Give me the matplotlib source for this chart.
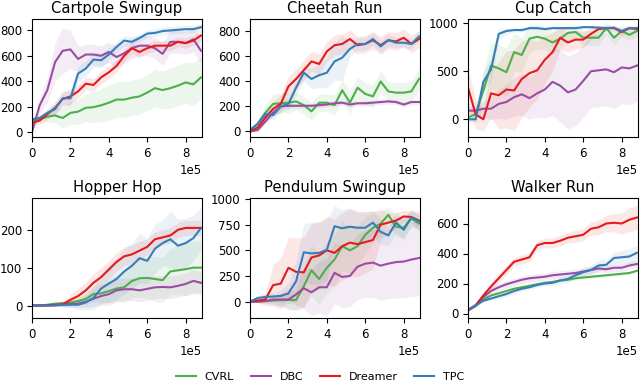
import numpy as np
import matplotlib
matplotlib.use("Agg")
import matplotlib.pyplot as plt

# -------------------- data --------------------
steps = np.arange(23) * 0.4e5   # env steps, 0 .. 8.8e5

methods = ["CVRL", "DBC", "Dreamer", "TPC"]
colors = ["#4daf4a", "#984ea3", "#e41a1c", "#377eb8"]

# Cartpole Swingup
cartpole_cvrl = [80, 100, 120, 130, 110, 150, 160, 190, 195, 210, 230, 255, 255, 270, 280, 310, 345, 330, 345, 365, 390, 375, 430]
cartpole_cvrl_sd = [20, 30, 40, 60, 80, 90, 100, 110, 120, 130, 140, 140, 140, 140, 140, 140, 150, 150, 160, 160, 160, 170, 160]
cartpole_dbc = [0, 210, 330, 550, 640, 650, 575, 610, 610, 600, 630, 590, 620, 660, 680, 680, 660, 615, 710, 710, 700, 730, 640]
cartpole_dbc_sd = [10, 60, 100, 150, 180, 150, 100, 80, 80, 80, 80, 80, 80, 80, 80, 80, 80, 90, 90, 90, 90, 100, 100]
cartpole_dreamer = [70, 90, 140, 190, 260, 280, 320, 380, 370, 430, 470, 520, 600, 660, 630, 660, 680, 680, 680, 710, 700, 720, 760]
cartpole_dreamer_sd = [20, 30, 40, 50, 60, 60, 50, 50, 50, 50, 50, 50, 50, 40, 40, 40, 40, 40, 40, 40, 40, 40, 40]
cartpole_tpc = [100, 110, 150, 180, 265, 265, 460, 500, 570, 565, 610, 670, 720, 710, 740, 775, 780, 795, 800, 805, 810, 810, 825]
cartpole_tpc_sd = [20, 20, 30, 40, 50, 60, 60, 60, 60, 60, 50, 40, 40, 40, 30, 30, 30, 30, 30, 30, 30, 30, 30]

# Cheetah Run
cheetah_cvrl = [10, 60, 150, 220, 225, 230, 240, 210, 160, 230, 230, 210, 330, 230, 350, 300, 280, 400, 320, 310, 310, 320, 420]
cheetah_cvrl_sd = [10, 30, 60, 80, 80, 80, 70, 70, 70, 70, 70, 80, 90, 90, 90, 90, 90, 90, 80, 80, 80, 80, 90]
cheetah_dbc = [0, 10, 80, 150, 200, 205, 205, 205, 205, 210, 215, 225, 230, 215, 225, 225, 230, 235, 240, 235, 215, 235, 235]
cheetah_dbc_sd = [5, 10, 20, 20, 20, 20, 20, 20, 20, 20, 20, 20, 20, 20, 20, 20, 20, 20, 20, 20, 20, 20, 20]
cheetah_dreamer = [0, 30, 110, 180, 220, 360, 420, 490, 560, 540, 640, 690, 700, 740, 690, 700, 730, 690, 730, 720, 750, 700, 740]
cheetah_dreamer_sd = [10, 20, 40, 60, 70, 80, 80, 80, 80, 80, 80, 80, 80, 70, 70, 70, 70, 70, 70, 70, 70, 70, 70]
cheetah_tpc = [10, 60, 140, 130, 200, 220, 350, 470, 420, 450, 470, 560, 590, 660, 700, 700, 740, 680, 730, 710, 710, 700, 760]
cheetah_tpc_sd = [10, 20, 30, 40, 40, 50, 60, 60, 80, 100, 120, 150, 180, 60, 50, 50, 50, 50, 50, 40, 40, 40, 40]

# Cup Catch
cup_cvrl = [20, 50, 300, 560, 530, 490, 700, 670, 840, 860, 840, 800, 840, 900, 910, 850, 850, 850, 950, 850, 920, 880, 920]
cup_cvrl_sd = [40, 80, 200, 250, 250, 250, 200, 180, 150, 130, 120, 120, 100, 80, 80, 80, 80, 80, 60, 80, 60, 60, 60]
cup_dbc = [90, 90, 110, 110, 160, 180, 230, 260, 220, 270, 310, 390, 350, 280, 310, 400, 500, 510, 520, 490, 540, 530, 560]
cup_dbc_sd = [40, 60, 80, 120, 150, 180, 200, 220, 220, 250, 300, 350, 380, 380, 380, 380, 380, 380, 380, 380, 380, 380, 380]
cup_dreamer = [330, 50, 0, 270, 250, 310, 300, 420, 480, 510, 620, 700, 850, 800, 830, 830, 890, 940, 950, 950, 910, 950, 940]
cup_dreamer_sd = [200, 150, 120, 250, 350, 400, 420, 400, 350, 300, 250, 200, 120, 100, 100, 80, 60, 40, 30, 30, 40, 30, 30]
cup_tpc = [0, 0, 390, 520, 890, 920, 930, 930, 950, 950, 940, 950, 950, 950, 950, 960, 960, 955, 950, 955, 920, 950, 950]
cup_tpc_sd = [20, 20, 100, 120, 60, 30, 20, 20, 15, 15, 15, 15, 15, 15, 15, 15, 15, 15, 15, 15, 20, 15, 15]

# Hopper Hop
hopper_cvrl = [0, 0, 2, 5, 6, 8, 12, 17, 30, 32, 38, 45, 48, 65, 72, 73, 70, 67, 90, 93, 96, 100, 100]
hopper_cvrl_sd = [1, 1, 2, 4, 6, 8, 10, 15, 20, 25, 30, 35, 40, 45, 50, 55, 60, 60, 60, 65, 70, 70, 70]
hopper_dbc = [0, 0, 1, 2, 3, 4, 5, 10, 18, 25, 30, 40, 43, 43, 40, 44, 48, 49, 48, 52, 57, 65, 60]
hopper_dbc_sd = [1, 1, 2, 3, 5, 8, 10, 15, 20, 25, 30, 30, 30, 30, 30, 30, 30, 30, 30, 30, 30, 30, 30]
hopper_dreamer = [0, 0, 0, 1, 3, 15, 25, 40, 60, 75, 95, 115, 130, 135, 145, 155, 175, 180, 185, 200, 205, 205, 205]
hopper_dreamer_sd = [1, 1, 2, 3, 8, 15, 20, 22, 24, 25, 25, 25, 25, 25, 25, 20, 20, 20, 20, 20, 20, 20, 20]
hopper_tpc = [0, 0, 0, 0, 2, 2, 2, 8, 20, 45, 58, 70, 90, 105, 125, 118, 150, 165, 175, 158, 165, 178, 205]
hopper_tpc_sd = [1, 1, 1, 2, 5, 8, 12, 20, 30, 40, 50, 55, 60, 60, 65, 60, 65, 60, 75, 70, 65, 60, 55]

# Pendulum Swingup
pendulum_cvrl = [0, 0, 5, 10, 15, 15, 15, 150, 305, 220, 330, 410, 540, 500, 540, 650, 720, 760, 845, 730, 720, 810, 760]
pendulum_cvrl_sd = [5, 10, 20, 40, 60, 80, 100, 200, 250, 250, 250, 250, 250, 220, 200, 180, 150, 120, 80, 100, 100, 80, 80]
pendulum_dbc = [0, 0, 5, 20, 20, 20, 70, 130, 90, 140, 140, 280, 240, 250, 340, 370, 380, 350, 370, 385, 390, 410, 425]
pendulum_dbc_sd = [5, 10, 20, 40, 60, 100, 150, 200, 230, 250, 280, 300, 300, 300, 320, 330, 340, 340, 340, 350, 350, 360, 370]
pendulum_dreamer = [0, 10, 20, 160, 175, 330, 290, 285, 430, 450, 500, 475, 540, 575, 560, 580, 600, 750, 770, 790, 830, 825, 790]
pendulum_dreamer_sd = [5, 20, 60, 200, 250, 300, 330, 340, 330, 330, 330, 330, 330, 330, 320, 300, 280, 150, 100, 80, 60, 60, 80]
pendulum_tpc = [0, 35, 45, 50, 55, 80, 200, 480, 470, 475, 505, 735, 715, 730, 720, 720, 770, 680, 645, 770, 700, 820, 780]
pendulum_tpc_sd = [5, 20, 30, 40, 60, 100, 200, 280, 300, 300, 300, 200, 180, 180, 150, 150, 120, 120, 100, 100, 100, 80, 80]

# Walker Run
walker_cvrl = [25, 50, 95, 120, 135, 150, 165, 175, 185, 195, 205, 210, 220, 225, 235, 240, 245, 250, 255, 260, 265, 270, 285]
walker_cvrl_sd = [5, 5, 8, 8, 10, 10, 10, 10, 10, 10, 10, 10, 10, 10, 10, 10, 10, 10, 10, 10, 10, 10, 10]
walker_dbc = [20, 55, 110, 150, 175, 195, 210, 225, 235, 240, 245, 255, 260, 265, 270, 280, 290, 300, 295, 305, 305, 320, 330]
walker_dbc_sd = [5, 10, 20, 25, 25, 25, 25, 25, 25, 25, 25, 25, 25, 25, 25, 25, 25, 25, 25, 25, 25, 25, 25]
walker_dreamer = [20, 55, 120, 180, 235, 290, 345, 360, 375, 455, 470, 470, 485, 505, 515, 525, 565, 575, 600, 605, 600, 625, 640]
walker_dreamer_sd = [5, 10, 20, 25, 30, 30, 30, 30, 30, 30, 30, 35, 35, 35, 40, 40, 45, 50, 55, 60, 70, 80, 80]
walker_tpc = [25, 55, 85, 100, 115, 130, 150, 165, 175, 190, 200, 205, 220, 230, 255, 275, 290, 320, 325, 370, 375, 380, 405]
walker_tpc_sd = [5, 8, 10, 12, 15, 15, 15, 15, 15, 15, 15, 20, 20, 25, 25, 30, 30, 35, 35, 40, 45, 50, 50]

tasks = [
    ("Cartpole Swingup", [cartpole_cvrl, cartpole_dbc, cartpole_dreamer, cartpole_tpc],
     [cartpole_cvrl_sd, cartpole_dbc_sd, cartpole_dreamer_sd, cartpole_tpc_sd], (-40, 890), [0, 200, 400, 600, 800]),
    ("Cheetah Run", [cheetah_cvrl, cheetah_dbc, cheetah_dreamer, cheetah_tpc],
     [cheetah_cvrl_sd, cheetah_dbc_sd, cheetah_dreamer_sd, cheetah_tpc_sd], (-45, 900), [0, 200, 400, 600, 800]),
    ("Cup Catch", [cup_cvrl, cup_dbc, cup_dreamer, cup_tpc],
     [cup_cvrl_sd, cup_dbc_sd, cup_dreamer_sd, cup_tpc_sd], (-185, 1045), [0, 500, 1000]),
    ("Hopper Hop", [hopper_cvrl, hopper_dbc, hopper_dreamer, hopper_tpc],
     [hopper_cvrl_sd, hopper_dbc_sd, hopper_dreamer_sd, hopper_tpc_sd], (-33, 284), [0, 100, 200]),
    ("Pendulum Swingup", [pendulum_cvrl, pendulum_dbc, pendulum_dreamer, pendulum_tpc],
     [pendulum_cvrl_sd, pendulum_dbc_sd, pendulum_dreamer_sd, pendulum_tpc_sd], (-160, 1010), [0, 250, 500, 750, 1000]),
    ("Walker Run", [walker_cvrl, walker_dbc, walker_dreamer, walker_tpc],
     [walker_cvrl_sd, walker_dbc_sd, walker_dreamer_sd, walker_tpc_sd], (-30, 770), [0, 200, 400, 600]),
]

# -------------------- layout --------------------
W, H = 640, 382
fig = plt.figure(figsize=(W / 100, H / 100), dpi=100)

lefts = [32, 250, 468]
rows = [(19, 137), (198, 318)]   # (top, bottom) in pixels
aw = 170

lines = []
for k, (title, means, sds, ylim, yticks) in enumerate(tasks):
    r, c = divmod(k, 3)
    top, bot = rows[r]
    ax = fig.add_axes([lefts[c] / W, 1 - bot / H, aw / W, (bot - top) / H])
    for m, sd, col in zip(means, sds, colors):
        m = np.array(m, dtype=float)
        sd = np.array(sd, dtype=float)
        ax.fill_between(steps, m - sd, m + sd, color=col, alpha=0.1, linewidth=0)
        ln, = ax.plot(steps, m, color=col, lw=1.5)
        if k == 0:
            lines.append(ln)
    ax.set_xlim(0, 8.85e5)
    ax.set_ylim(*ylim)
    ax.set_yticks(yticks)
    ax.set_xticks([0, 2e5, 4e5, 6e5, 8e5])
    ax.ticklabel_format(axis="x", style="sci", scilimits=(0, 0))
    ax.tick_params(labelsize=8.5)
    ax.xaxis.get_offset_text().set_fontsize(8.5)
    ax.set_title(title, fontsize=10.6, pad=4)

fig.legend(lines, methods, loc="lower center", bbox_to_anchor=(0.5, -0.025), ncol=4,
           frameon=False, fontsize=8, handlelength=1.8, columnspacing=1.5)

fig.savefig("out.png", dpi=100)
